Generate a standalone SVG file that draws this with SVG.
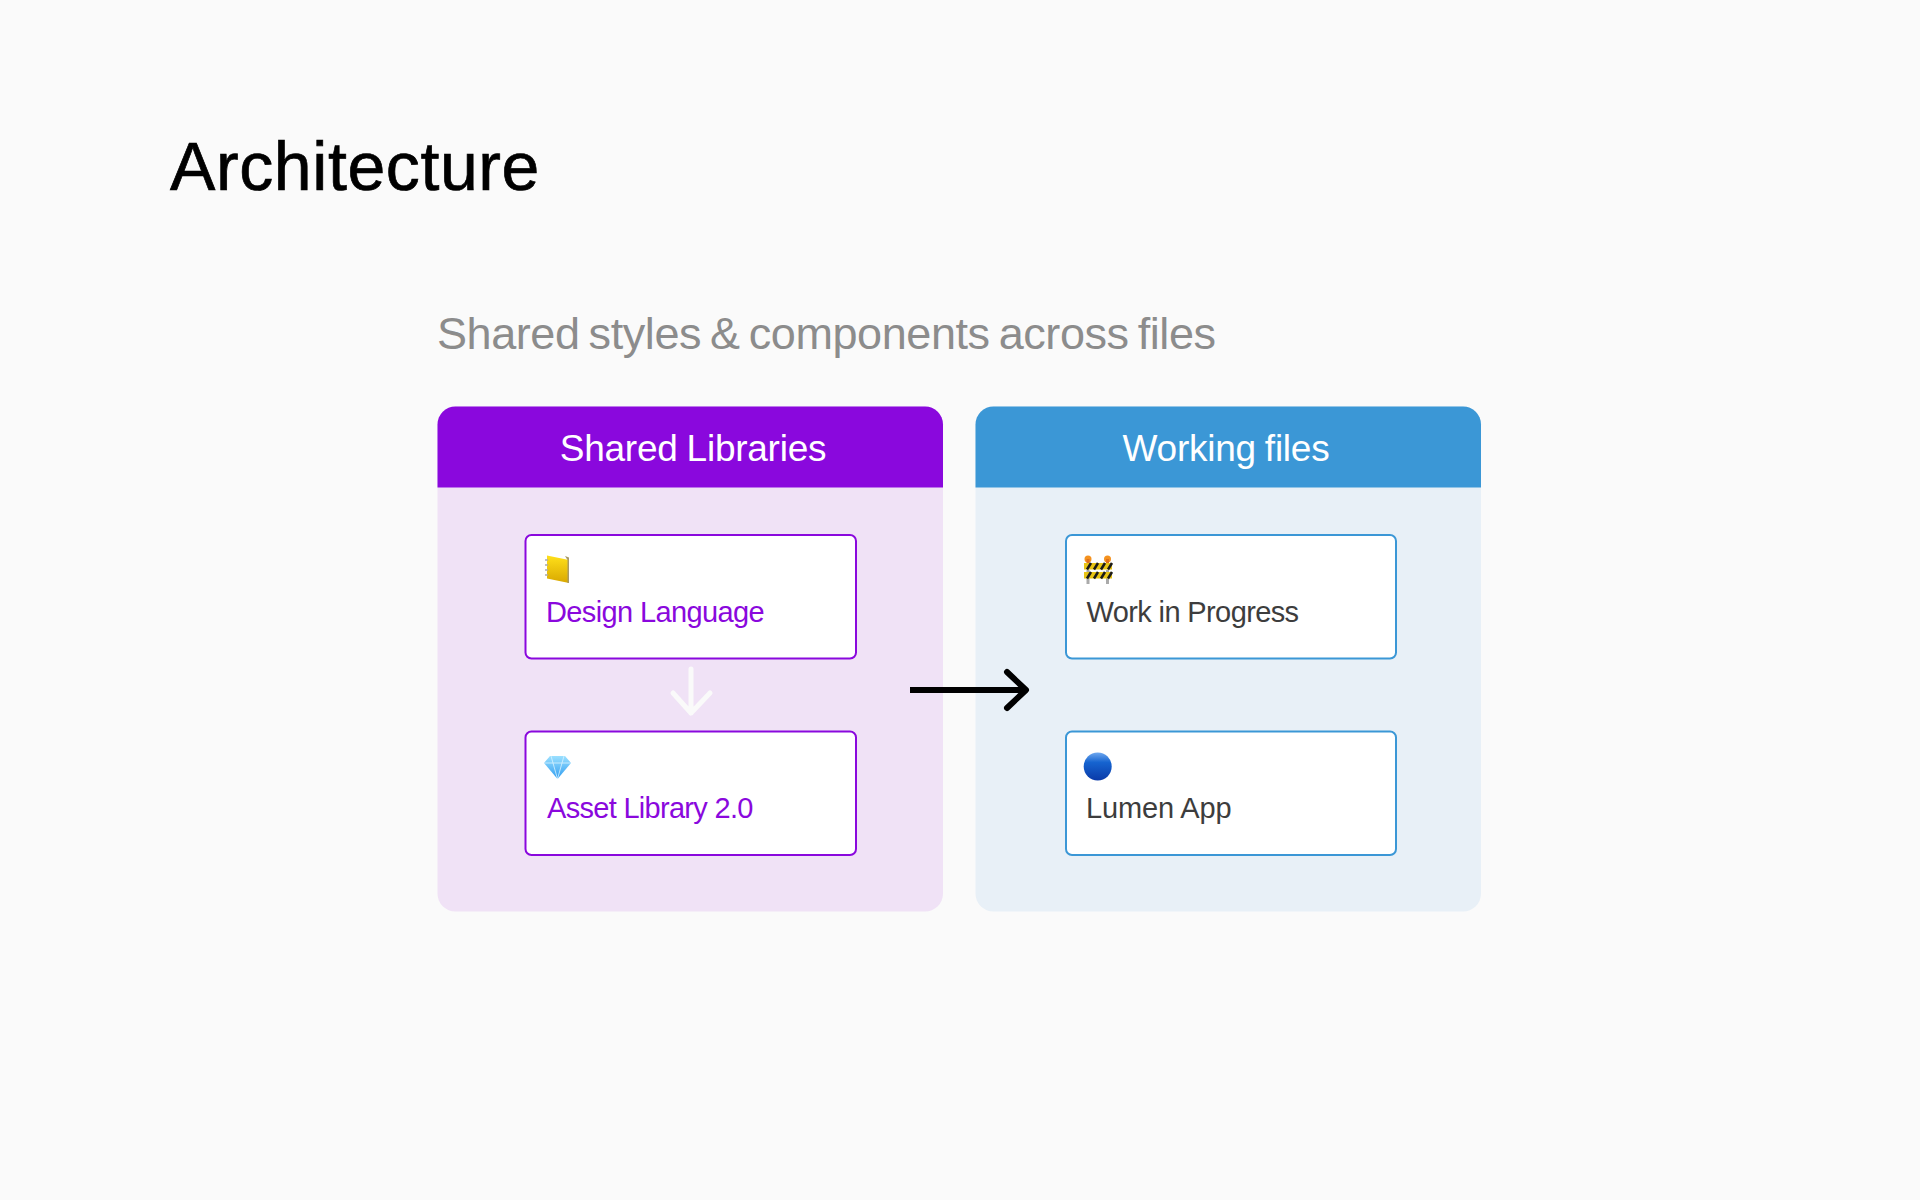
<svg xmlns="http://www.w3.org/2000/svg" width="1920" height="1200" viewBox="0 0 1920 1200">
<style>
text{font-family:"Liberation Sans",Arial,sans-serif}
.title{font-size:68px;fill:#000;stroke:#000;stroke-width:.7px;letter-spacing:.6px}
.sub{font-size:45px;fill:#8c8c8c;letter-spacing:-.43px;word-spacing:-3px}
.head{font-size:37px;fill:#fff;letter-spacing:-.25px;word-spacing:-1px;text-anchor:middle}
.label{font-size:29px;letter-spacing:-.62px}
.pl{fill:#8a08dd}.bl{fill:#3d3d3d}
.card{fill:#fff;stroke-width:2}
</style>
<defs>
<linearGradient id="book" x1="0" y1="0" x2="0" y2="1"><stop offset="0" stop-color="#ffe01a"/><stop offset="1" stop-color="#d9a800"/></linearGradient>
<linearGradient id="ball" x1="0" y1="0" x2="0" y2="1"><stop offset="0" stop-color="#6fa8ef"/><stop offset=".35" stop-color="#1664d0"/><stop offset="1" stop-color="#0a3aa8"/></linearGradient>
<linearGradient id="gem" x1="0" y1="0" x2="0" y2="1"><stop offset="0" stop-color="#9be0ff"/><stop offset="1" stop-color="#2f9cf0"/></linearGradient>
</defs>
<rect width="1920" height="1200" fill="#fafafa"/>
<text class="title" x="170" y="190">Architecture</text>
<text class="sub" x="437" y="349">Shared styles &amp; components across files</text>

<g id="panel-shared">
<rect x="437.500" y="406.500" width="505.500" height="505" rx="18" fill="#f0e2f6"/>
<path d="M437.500 487.500V424.500a18 18 0 0 1 18-18H925a18 18 0 0 1 18 18V487.500Z" fill="#8a08dd"/>
<text class="head" x="693" y="461">Shared Libraries</text>
</g>
<g id="panel-working">
<rect x="975.500" y="406.500" width="505.500" height="505" rx="18" fill="#e8f0f7"/>
<path d="M975.500 487.500V424.500a18 18 0 0 1 18-18H1463a18 18 0 0 1 18 18V487.500Z" fill="#3b97d6"/>
<text class="head" x="1226" y="461">Working files</text>
</g>

<g id="node-design-language">
<rect class="card" x="525.500" y="535" width="330.500" height="123.500" rx="6" stroke="#8a08dd"/>
<g><path d="M547 555.500l22 4.500v23l-22-4.500Z" fill="url(#book)"/><path d="M565 556l4 1.500v25.500l-1.500 0V560Z" fill="#a89a66"/><path d="M545 560h3M545 565h3M545 570h3M545 575h3" stroke="#aaa" stroke-width="1.500"/></g>
<text class="label pl" x="546" y="622">Design Language</text>
</g>
<g id="node-asset-library">
<rect class="card" x="525.500" y="731.500" width="330.500" height="123.500" rx="6" stroke="#8a08dd"/>
<g><path d="M544 763l6-7h15l6 7-13.500 16Z" fill="url(#gem)"/><path d="M544 763h27M551 756l2 7 4.500 16 4.500-16 2-7" fill="none" stroke="#d8f2ff" stroke-width=".8"/></g>
<text class="label pl" x="547" y="818" style="letter-spacing:-.7px">Asset Library 2.0</text>
</g>
<g id="node-work-in-progress">
<rect class="card" x="1066" y="535" width="330" height="123.500" rx="6" stroke="#3b97d6"/>
<g><path d="M1088 584v-14M1107.500 584v-14" stroke="#aaa" stroke-width="3" fill="none"/><circle cx="1088" cy="559" r="3.500" fill="#f5921e"/><circle cx="1107.500" cy="559" r="3.500" fill="#f5921e"/><path d="M1088 563v-4M1107.500 563v-4" stroke="#e0701e" stroke-width="3"/><rect x="1084" y="563" width="28" height="6.500" fill="#e8c414"/><rect x="1084" y="572" width="28" height="6.500" fill="#e8c414"/><path d="M1087 569.500l4-6.500M1094 569.500l4-6.500M1101 569.500l4-6.500M1108 569.500l4-6.500M1087 578.500l4-6.500M1094 578.500l4-6.500M1101 578.500l4-6.500M1108 578.500l4-6.500" stroke="#1a1a1a" stroke-width="2.500" fill="none"/></g>
<text class="label bl" x="1086.500" y="622">Work in Progress</text>
</g>
<g id="node-lumen-app">
<rect class="card" x="1066" y="731.500" width="330" height="123.500" rx="6" stroke="#3b97d6"/>
<circle cx="1097.700" cy="766.500" r="14" fill="url(#ball)"/>
<text class="label bl" x="1086" y="818" style="letter-spacing:-.15px">Lumen App</text>
</g>

<g id="connectors" fill="none" stroke-linecap="round" stroke-linejoin="round">
<path d="M691 669V713M673 693L691 713L710 693" stroke="#fafafa" stroke-width="5"/>
<path d="M910 690H1026" stroke="#000" stroke-width="6" stroke-linecap="butt"/>
<path d="M1007 672L1026 690L1007 708" stroke="#000" stroke-width="6"/>
</g>
</svg>
